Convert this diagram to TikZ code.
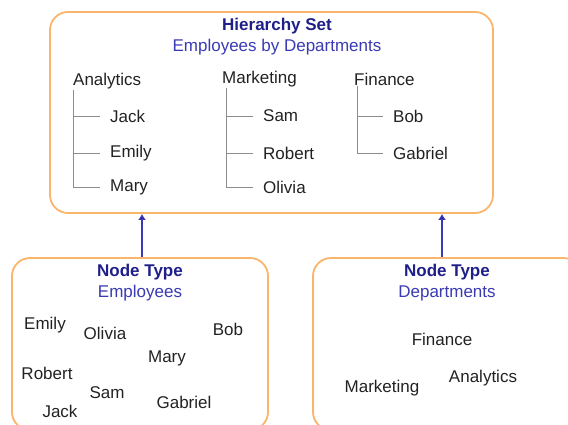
\documentclass[tikz,border=0pt]{standalone}
\usepackage{fontspec}
\setmainfont{Liberation Sans}
\usepackage{xcolor}
\definecolor{hborder}{HTML}{F9B56B}
\definecolor{hnavy}{HTML}{1F1F8A}
\definecolor{hblue}{HTML}{3A3AB4}
\definecolor{hgray}{HTML}{8C8C8C}
\definecolor{htext}{HTML}{222222}
\usetikzlibrary{arrows.meta,positioning,calc}

\begin{document}
\begin{tikzpicture}[x=1pt,y=-1pt,
  every node/.style={font=\fontsize{17}{20}\selectfont,text=htext},
  panel/.style={rectangle,draw=hborder,line width=1.8pt,rounded corners=18pt},
  ttl/.style={font=\fontsize{17}{20}\selectfont\bfseries,text=hnavy},
  sub/.style={text=hblue},
  item/.style={inner sep=0pt,anchor=west},
  branch/.style={hgray,line width=0.8pt},
  link/.style={-{Latex[length=6pt,width=8pt,fill=hnavy]},line width=1.2pt,draw=hblue}]
\useasboundingbox (0,0) rectangle (568,425);
% panels
\node[panel,minimum width=443pt,minimum height=201pt] (hier) at (271.5,112.5) {};
\node[panel,minimum width=256pt,minimum height=172pt] (emp) at (140,344) {};
\node[panel,minimum width=268pt,minimum height=172pt] (dep) at (447,344) {};
% hierarchy set
\node[ttl] (hiertitle) at (277,26) {Hierarchy Set};
\node[sub] (hiersub) at (277,47) {Employees by Departments};
\node[item] (ana) at (73,81) {Analytics};
\node[item] (hjack) at (110,116) {Jack};
\node[item] (hemily) at (110,153) {Emily};
\node[item] (hmary) at (110,187) {Mary};
\node[item] (mkt) at (222,79) {Marketing};
\node[item] (hsam) at (263,116) {Sam};
\node[item] (hrobert) at (263,153) {Robert};
\node[item] (holivia) at (263,187) {Olivia};
\node[item] (fin) at (354,79) {Finance};
\node[item] (hbob) at (393,116) {Bob};
\node[item] (hgabriel) at (393,153) {Gabriel};
\draw[branch] ([yshift=-1pt]ana.south west) |- ([xshift=-10pt]hmary.west);
\draw[branch] (ana.west |- hjack.west) -- ([xshift=-10pt]hjack.west);
\draw[branch] (ana.west |- hemily.west) -- ([xshift=-10pt]hemily.west);
\draw[branch] ([xshift=4pt,yshift=-1pt]mkt.south west) |- ([xshift=-10pt]holivia.west);
\draw[branch] ([xshift=4pt]mkt.west |- hsam.west) -- ([xshift=-10pt]hsam.west);
\draw[branch] ([xshift=4pt]mkt.west |- hrobert.west) -- ([xshift=-10pt]hrobert.west);
\draw[branch] ([xshift=3pt,yshift=-1pt]fin.south west) |- ([xshift=-10pt]hgabriel.west);
\draw[branch] ([xshift=3pt]fin.west |- hbob.west) -- ([xshift=-10pt]hbob.west);
% node type: employees
\node[ttl] (emptitle) at (140,272) {Node Type};
\node[sub] (empsub) at (140,293) {Employees};
\node (emily) at (45,325) {Emily};
\node (olivia) at (105,333) {Olivia};
\node (bob) at (228,329) {Bob};
\node (mary) at (167,358) {Mary};
\node (robert) at (47,373) {Robert};
\node (sam) at (107,393) {Sam};
\node (gabriel) at (184,402) {Gabriel};
\node (jack) at (60,411) {Jack};
% node type: departments
\node[ttl] (deptitle) at (447,272) {Node Type};
\node[sub] (depsub) at (447,293) {Departments};
\node (finance) at (442,339) {Finance};
\node (analytics) at (483,378) {Analytics};
\node (marketing) at (382,388) {Marketing};
% links
\draw[link] ([xshift=2pt]emp.north) -- ([xshift=2pt]emp.north |- hier.south);
\draw[link] ([xshift=-5pt]dep.north) -- ([xshift=-5pt]dep.north |- hier.south);
\end{tikzpicture}
\end{document}
